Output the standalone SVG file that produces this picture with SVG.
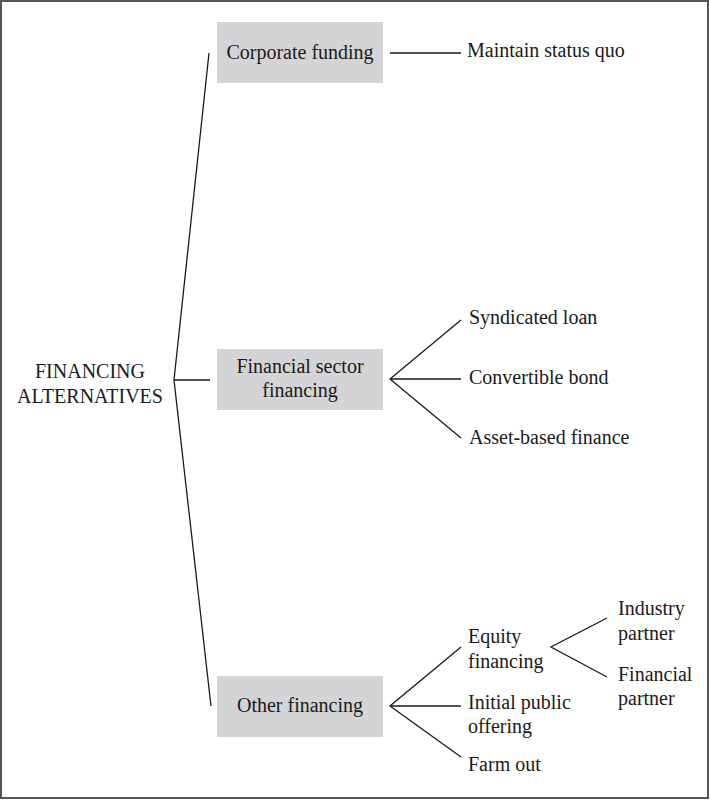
<svg xmlns="http://www.w3.org/2000/svg" width="710" height="800" viewBox="0 0 710 800">
<style>
.t{font-family:"Liberation Serif","Times New Roman",serif;font-size:20px;fill:#1a1a1a}
.c{text-anchor:middle}
.box{fill:#d4d4d6}
.ln{stroke:#1a1a1a;stroke-width:1.3;fill:none}
</style>
<rect x="1" y="1" width="707" height="797" fill="#fff" stroke="#555" stroke-width="2"/>
<g id="root">
<text class="t c" x="90" y="378">FINANCING</text>
<text class="t c" x="90" y="403">ALTERNATIVES</text>
</g>
<g id="corporate">
<rect class="box" x="217" y="22" width="166" height="61"/>
<text class="t c" x="300" y="59">Corporate funding</text>
</g>
<g id="status-quo"><text class="t" x="467" y="57">Maintain status quo</text></g>
<g id="financial-sector">
<rect class="box" x="217" y="349" width="166" height="61"/>
<text class="t c" x="300" y="373">Financial sector</text>
<text class="t c" x="300" y="397">financing</text>
</g>
<g id="syndicated"><text class="t" x="469" y="324">Syndicated loan</text></g>
<g id="convertible"><text class="t" x="469" y="384">Convertible bond</text></g>
<g id="asset"><text class="t" x="469" y="444">Asset-based finance</text></g>
<g id="other">
<rect class="box" x="217" y="676" width="166" height="61"/>
<text class="t c" x="300" y="712">Other financing</text>
</g>
<g id="equity">
<text class="t" x="468" y="643">Equity</text>
<text class="t" x="468" y="668">financing</text>
</g>
<g id="ipo">
<text class="t" x="468" y="709">Initial public</text>
<text class="t" x="468" y="733">offering</text>
</g>
<g id="farm"><text class="t" x="468" y="771">Farm out</text></g>
<g id="industry">
<text class="t" x="618" y="615">Industry</text>
<text class="t" x="618" y="640">partner</text>
</g>
<g id="fin-partner">
<text class="t" x="618" y="681">Financial</text>
<text class="t" x="618" y="705">partner</text>
</g>
<g id="connectors">
<polyline class="ln" points="209,53 174,380 211,706"/>
<line class="ln" x1="174" y1="380" x2="210" y2="380"/>
<line class="ln" x1="390" y1="53" x2="461" y2="53"/>
<polyline class="ln" points="461,320 390,379 461,438"/>
<line class="ln" x1="390" y1="379" x2="461" y2="379"/>
<polyline class="ln" points="461,647 390,706 461,757"/>
<line class="ln" x1="390" y1="706" x2="461" y2="706"/>
<polyline class="ln" points="607,618 551,647 607,677"/>
</g>
</svg>
